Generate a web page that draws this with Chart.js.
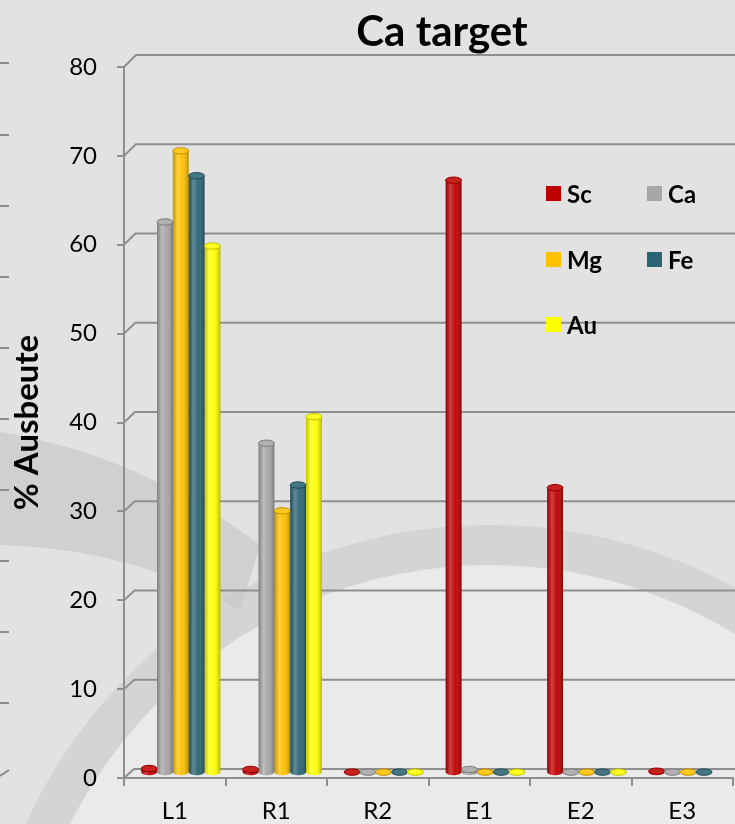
<!DOCTYPE html>
<html>
<head>
<meta charset="utf-8">
<title>Ca target</title>
<script src="https://cdn.jsdelivr.net/npm/chart.js@4.4.1/dist/chart.umd.min.js"></script>
<style>
  html, body { margin: 0; padding: 0; background: #e2e2e2; }
  #wrap { position: relative; width: 735px; height: 824px; overflow: hidden; }
  #chart { position: absolute; left: 0; top: 0; }
  #legend {
    position: absolute; left: 546px; top: 179px;
    display: grid; grid-template-columns: 101px 90px; grid-auto-rows: 65.5px;
    font: bold 24px Lato, sans-serif; color: #000;
  }
  .item { display: flex; align-items: center; height: 29px; }
  .sw { width: 15px; height: 15px; margin-right: 6px; flex: none; }
</style>
</head>
<body>
<div id="wrap">
  <canvas id="chart" width="735" height="824"></canvas>
  <div id="legend"></div>
</div>
<script>
// ---- data ----
const chartTitle = 'Ca target';
const axisTitle = '% Ausbeute';
const categories = ['L1', 'R1', 'R2', 'E1', 'E2', 'E3'];
const seriesNames = ['Sc', 'Ca', 'Mg', 'Fe', 'Au'];
const seriesColors = ['#c00000', '#a6a6a6', '#ffc000', '#2b6473', '#ffff00'];
const scValues = [0.5, 0.4, 0.1, 66.7, 32.1, 0.2];
const caValues = [62.0, 37.1, 0.1, 0.4, 0.1, 0.1];
const mgValues = [70.0, 29.5, 0.1, 0.1, 0.1, 0.1];
const feValues = [67.2, 32.4, 0.1, 0.1, 0.1, 0.1];
const auValues = [59.3, 40.1, 0.1, 0.1, 0.1, null];
const yMin = 0, yMax = 80, yStep = 10;

const seriesValues = [scValues, caValues, mgValues, feValues, auValues];

// ---- helpers ----
function mix(hex, target, amt) {
  const n = parseInt(hex.slice(1), 16);
  const r = (n >> 16) & 255, g = (n >> 8) & 255, b = n & 255;
  const f = c => Math.round(c + (target - c) * amt);
  return `rgb(${f(r)},${f(g)},${f(b)})`;
}

const GRID = '#8f8f8f';
// perspective offset of the back wall (front -> back)
const backOffset = v => {
  const k = (v - yMin) / (yMax - yMin);
  return { dx: 10 + 2 * k, dy: 9 + 3 * k };
};
// bars stand half way into the depth
const barShift = { dx: 6, dy: -5 };

// ---- plugin: backdrop, 3D frame, cylinder shading, title ----
const cylinderPlugin = {
  id: 'cylinder3d',
  beforeDraw(chart) {
    const { ctx, width, height } = chart;
    ctx.save();
    ctx.fillStyle = '#e2e2e2';
    ctx.fillRect(0, 0, width, height);

    // large soft sweep in the lower half
    ctx.beginPath();
    ctx.arc(490, 1035, 470, 0, Math.PI * 2);
    ctx.fillStyle = '#eaeaea';
    ctx.fill();
    ctx.beginPath();
    ctx.arc(490, 1035, 490, Math.PI * 1.12, Math.PI * 1.68);
    ctx.lineWidth = 40;
    ctx.strokeStyle = 'rgba(198,198,198,0.5)';
    ctx.stroke();

    // band entering from the left
    ctx.beginPath();
    ctx.moveTo(0, 432);
    ctx.quadraticCurveTo(140, 455, 260, 545);
    ctx.lineTo(240, 610);
    ctx.quadraticCurveTo(130, 548, 0, 545);
    ctx.closePath();
    ctx.fillStyle = 'rgba(196,196,196,0.6)';
    ctx.fill();

    // axis ticks of the neighbouring panel at the left edge
    ctx.strokeStyle = '#8c8c8c';
    ctx.lineWidth = 2;
    [63, 135, 206, 277, 348, 419, 490, 561, 632, 703].forEach(yy => {
      ctx.beginPath(); ctx.moveTo(0, yy); ctx.lineTo(9, yy); ctx.stroke();
    });
    ctx.beginPath(); ctx.moveTo(0, 776); ctx.lineTo(9, 770); ctx.stroke();
    ctx.restore();
  },
  beforeDatasetsDraw(chart) {
    const { ctx, chartArea: a, scales: { y } } = chart;
    ctx.save();
    ctx.strokeStyle = GRID;
    ctx.lineWidth = 2;
    y.ticks.forEach(t => {
      const yf = y.getPixelForValue(t.value);
      const o = backOffset(t.value);
      ctx.beginPath();
      ctx.moveTo(a.left, yf);
      ctx.lineTo(a.left + o.dx, yf - o.dy);
      ctx.lineTo(chart.width, yf - o.dy);
      ctx.stroke();
    });
    ctx.restore();

    // title
    ctx.save();
    ctx.font = 'bold 42px Lato';
    ctx.fillStyle = '#000';
    ctx.textAlign = 'center';
    ctx.textBaseline = 'alphabetic';
    ctx.fillText(chartTitle, 442, 46);
    ctx.restore();

    ctx.save();
    ctx.translate(barShift.dx, barShift.dy);
  },
  afterDatasetsDraw(chart) {
    const { ctx } = chart;
    chart.data.datasets.forEach((ds, di) => {
      const meta = chart.getDatasetMeta(di);
      const col = ds.backgroundColor;
      meta.data.forEach((el, i) => {
        if (ds.data[i] == null) return;
        const p = el.getProps(['x', 'y', 'base', 'width'], true);
        if (!isFinite(p.y)) return;
        const rx = p.width / 2, ry = 3.2;
        const l = p.x - rx, r = p.x + rx;
        // bottom rounding
        ctx.beginPath();
        ctx.ellipse(p.x, p.base, rx, ry, 0, 0, Math.PI);
        ctx.fillStyle = col;
        ctx.fill();
        // shading across the body
        const g = ctx.createLinearGradient(l, 0, r, 0);
        g.addColorStop(0, 'rgba(0,0,0,0.22)');
        g.addColorStop(0.3, 'rgba(255,255,255,0.25)');
        g.addColorStop(0.6, 'rgba(255,255,255,0.04)');
        g.addColorStop(1, 'rgba(0,0,0,0.30)');
        ctx.beginPath();
        ctx.moveTo(l, p.y);
        ctx.lineTo(l, p.base);
        ctx.ellipse(p.x, p.base, rx, ry, 0, Math.PI, 0, true);
        ctx.lineTo(r, p.y);
        ctx.closePath();
        ctx.fillStyle = g;
        ctx.fill();
        // top cap
        ctx.beginPath();
        ctx.ellipse(p.x, p.y, rx, ry, 0, 0, Math.PI * 2);
        ctx.fillStyle = mix(col, 255, 0.12);
        ctx.fill();
        ctx.lineWidth = 1;
        ctx.strokeStyle = mix(col, 0, 0.25);
        ctx.stroke();
      });
    });
    ctx.restore();
  }
};

// ---- chart ----
const datasets = seriesNames.map((name, i) => ({
  label: name,
  data: seriesValues[i],
  backgroundColor: seriesColors[i],
  borderWidth: 0,
  barPercentage: 1,
  categoryPercentage: 0.78
}));

Chart.defaults.font.family = 'Lato, sans-serif';
Chart.defaults.color = '#000';

new Chart(document.getElementById('chart'), {
  type: 'bar',
  data: { labels: categories, datasets },
  options: {
    responsive: false,
    animation: false,
    layout: { padding: { top: 67, right: 2, left: 0, bottom: 0 } },
    plugins: {
      legend: { display: false },
      tooltip: { enabled: false }
    },
    scales: {
      x: {
        grid: { display: true, drawOnChartArea: false, drawTicks: true, tickLength: 8, color: GRID, lineWidth: 2 },
        border: { display: true, color: GRID, width: 2 },
        ticks: { font: { size: 24 }, padding: 11, color: '#000' },
        afterFit(scale) { scale.height = 46; }
      },
      y: {
        min: yMin, max: yMax,
        grid: { display: true, drawOnChartArea: false, drawTicks: true, tickLength: 7, color: GRID, lineWidth: 2 },
        border: { display: true, color: GRID, width: 2 },
        ticks: { stepSize: yStep, font: { size: 24 }, padding: 20, color: '#000' },
        title: { display: true, text: axisTitle, font: { size: 33, weight: 'bold' }, color: '#000', padding: { top: 8, bottom: 0 } },
        afterFit(scale) { scale.width = 124; }
      }
    }
  },
  plugins: [cylinderPlugin]
});

// ---- legend ----
const legend = document.getElementById('legend');
seriesNames.forEach((name, i) => {
  const item = document.createElement('div');
  item.className = 'item';
  const sw = document.createElement('span');
  sw.className = 'sw';
  sw.style.background = seriesColors[i];
  const tx = document.createElement('span');
  tx.textContent = name;
  item.appendChild(sw);
  item.appendChild(tx);
  legend.appendChild(item);
});
</script>
</body>
</html>
